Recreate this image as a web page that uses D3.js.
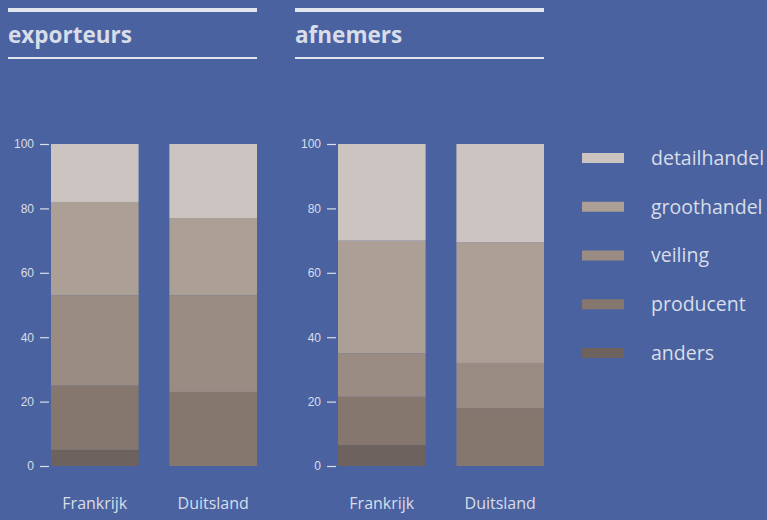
<!DOCTYPE html>
<html>
<head>
<meta charset="utf-8">
<script src="https://cdn.jsdelivr.net/npm/d3@7"></script>
<style>
  body { margin: 0; background: #4a63a0; }
  svg { display: block; font-family: "Open Sans", "Noto Sans", sans-serif; }
</style>
</head>
<body>
<svg id="chart" width="767" height="520"></svg>
<script>
// data
const panels = ['exporteurs', 'afnemers'];
const countries = ['Frankrijk', 'Duitsland'];
const segments = ['anders', 'producent', 'veiling', 'groothandel', 'detailhandel'];
const exporteursValues = [
  [5, 20, 28, 29, 18],   // Frankrijk
  [0, 23, 30, 24, 23]    // Duitsland
];
const afnemersValues = [
  [6.5, 15, 13.5, 35, 30],
  [0, 18, 14, 37.5, 30.5]
];
const yTicks = [0, 20, 40, 60, 80, 100];

const colors = ['#6e625e', '#85766e', '#9b8c83', '#ab9f96', '#cbc4c1'];
const textColor = '#d9dde9';

const svg = d3.select('#chart');
svg.append('rect').attr('width', 767).attr('height', 520).attr('fill', '#4a63a0');

const color = d3.scaleOrdinal().domain(segments).range(colors);
const y = d3.scaleLinear().domain([0, 100]).range([466, 144]);

const panelX = [8, 295];   // left edge of each panel
const panelW = 249;
const valuesByPanel = [exporteursValues, afnemersValues];

panels.forEach((name, i) => {
  const g = svg.append('g').attr('transform', `translate(${panelX[i]},0)`);

  // header lines + title
  g.append('rect').attr('x', 0).attr('y', 8).attr('width', panelW).attr('height', 4).attr('fill', '#e3e6ee');
  g.append('rect').attr('x', 0).attr('y', 57).attr('width', panelW).attr('height', 2).attr('fill', '#e3e6ee');
  g.append('text').attr('x', 0).attr('y', 43)
    .attr('fill', textColor).attr('font-size', 22.5).attr('font-weight', 'bold')
    .text(name);

  const x = d3.scaleBand().domain(countries).range([43, 249]).paddingInner(0.26).paddingOuter(0);

  // stacked bars
  const rows = countries.map((c, ci) => {
    const r = { country: c };
    segments.forEach((s, si) => r[s] = valuesByPanel[i][ci][si]);
    return r;
  });
  const stacked = d3.stack().keys(segments)(rows);

  g.selectAll('.layer')
    .data(stacked)
    .enter()
    .append('g')
    .attr('fill', d => color(d.key))
    .selectAll('rect')
    .data(d => d)
    .enter()
    .append('rect')
    .attr('x', d => x(d.data.country))
    .attr('y', d => y(d[1]))
    .attr('width', x.bandwidth())
    .attr('height', d => y(d[0]) - y(d[1]));

  // y axis
  const axis = g.append('g')
    .attr('transform', 'translate(41,0)')
    .call(d3.axisLeft(y).tickValues(yTicks).tickSize(9).tickPadding(6));
  axis.select('.domain').remove();
  axis.selectAll('line').attr('stroke', textColor).attr('stroke-width', 1.2);
  axis.selectAll('text').attr('fill', textColor).attr('font-size', 12).attr('font-family', null);

  // category labels
  g.selectAll('.cat')
    .data(countries)
    .enter()
    .append('text')
    .attr('x', d => x(d) + x.bandwidth() / 2)
    .attr('y', 509)
    .attr('text-anchor', 'middle')
    .attr('fill', textColor)
    .attr('font-size', 16)
    .text(d => d);
});

// legend
const legendItems = segments.slice().reverse();
const ly = d3.scalePoint().domain(legendItems).range([158, 353]);
const legend = svg.append('g');
legend.selectAll('rect')
  .data(legendItems)
  .enter()
  .append('rect')
  .attr('x', 582)
  .attr('y', d => ly(d) - 5)
  .attr('width', 42)
  .attr('height', 10)
  .attr('fill', d => color(d));
legend.selectAll('text')
  .data(legendItems)
  .enter()
  .append('text')
  .attr('x', 651)
  .attr('y', d => ly(d))
  .attr('dy', '0.35em')
  .attr('fill', textColor)
  .attr('font-size', 19.5)
  .text(d => d);
</script>
</body>
</html>
